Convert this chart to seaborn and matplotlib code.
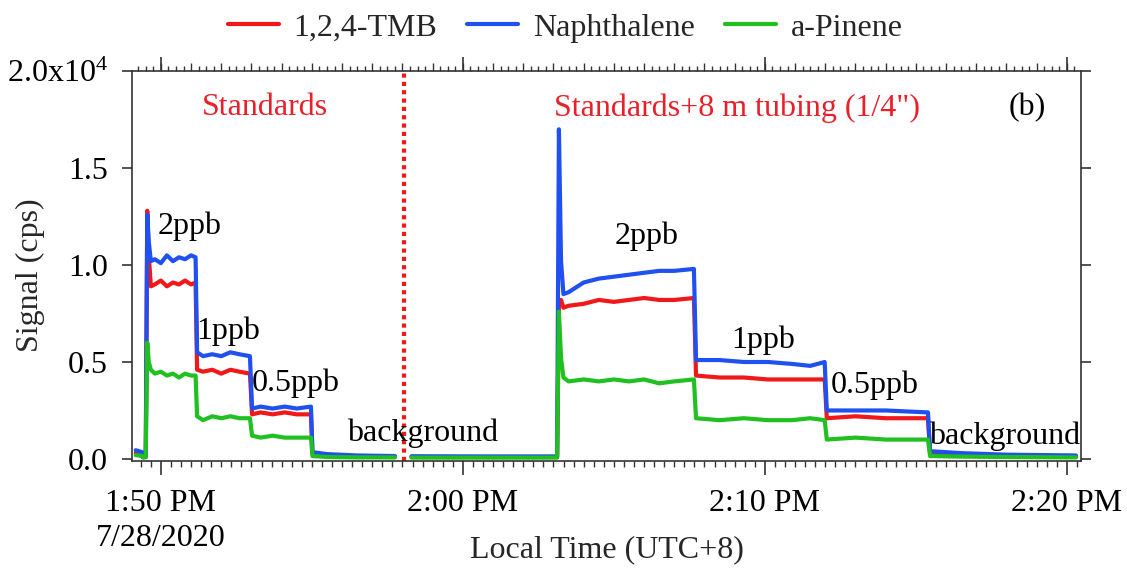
import numpy as np
import pandas as pd
import matplotlib
matplotlib.use("Agg")
import matplotlib.pyplot as plt
import seaborn as sns
from matplotlib.ticker import FixedLocator, FixedFormatter, MultipleLocator, NullFormatter
from matplotlib.lines import Line2D

# ---------------- data (minutes after 1:50 PM, signal in 1e4 cps) ----------------
compounds = ["1,2,4-TMB", "Naphthalene", "a-Pinene"]

time_min = [
    -0.83, -0.62, -0.58, -0.50,
    -0.45, -0.40, -0.33,
    -0.20, 0.00, 0.20, 0.40, 0.60, 0.80, 1.00, 1.15,
    1.20, 1.40, 1.70, 2.00, 2.30, 2.60, 2.95,
    3.02, 3.30, 3.70, 4.10, 4.50, 4.97,
    5.02, 5.50, 6.50, 7.75,
    8.30, 10.50, 13.12,
    13.18, 13.25, 13.33, 13.50, 14.00, 14.50, 15.00, 15.50, 16.00, 16.50, 17.00, 17.65,
    17.72, 18.50, 19.30, 20.10, 20.90, 21.50, 21.98,
    22.05, 23.00, 24.00, 25.40,
    25.47, 26.50, 28.00, 30.30,
]
segment = [1] * 32 + [2] * 30

tmb = [
    0.030, 0.020, 0.008, 0.010,
    1.28, 1.05, 0.89,
    0.90, 0.92, 0.89, 0.91, 0.90, 0.92, 0.90, 0.91,
    0.46, 0.45, 0.46, 0.44, 0.46, 0.45, 0.44,
    0.23, 0.24, 0.23, 0.24, 0.23, 0.23,
    0.025, 0.018, 0.012, 0.010,
    0.010, 0.010, 0.010,
    0.80, 0.82, 0.78, 0.79, 0.80, 0.82, 0.81, 0.82, 0.83, 0.82, 0.82, 0.83,
    0.43, 0.42, 0.42, 0.41, 0.41, 0.41, 0.41,
    0.21, 0.22, 0.21, 0.21,
    0.025, 0.020, 0.015, 0.012,
]
naphthalene = [
    0.045, 0.035, 0.010, 0.012,
    1.26, 1.12, 1.02,
    1.03, 1.01, 1.05, 1.02, 1.04, 1.03, 1.05, 1.04,
    0.55, 0.53, 0.54, 0.53, 0.55, 0.54, 0.53,
    0.26, 0.27, 0.26, 0.27, 0.26, 0.27,
    0.035, 0.025, 0.018, 0.015,
    0.014, 0.013, 0.013,
    1.70, 1.02, 0.85, 0.86, 0.91, 0.93, 0.94, 0.95, 0.96, 0.97, 0.97, 0.98,
    0.51, 0.51, 0.50, 0.50, 0.49, 0.48, 0.50,
    0.25, 0.25, 0.25, 0.24,
    0.040, 0.030, 0.022, 0.018,
]
pinene = [
    0.020, 0.015, 0.008, 0.010,
    0.60, 0.50, 0.46,
    0.44, 0.45, 0.43, 0.44, 0.42, 0.44, 0.43, 0.43,
    0.22, 0.20, 0.22, 0.21, 0.22, 0.21, 0.21,
    0.12, 0.11, 0.12, 0.11, 0.11, 0.11,
    0.015, 0.010, 0.008, 0.008,
    0.007, 0.007, 0.007,
    0.76, 0.52, 0.42, 0.40, 0.41, 0.40, 0.41, 0.40, 0.41, 0.39, 0.40, 0.41,
    0.21, 0.20, 0.21, 0.20, 0.20, 0.21, 0.20,
    0.10, 0.11, 0.10, 0.10,
    0.015, 0.012, 0.010, 0.008,
]

xtick_pos = [0, 10, 20, 30]
xtick_labels = ["1:50 PM\n7/28/2020", "2:00 PM", "2:10 PM", "2:20 PM"]
ytick_pos = [0.0, 0.5, 1.0, 1.5, 2.0]
ytick_labels = ["0.0", "0.5", "1.0", "1.5", r"2.0x10$^{4}$"]

switch_time = 8.05

annotations = [
    ("2ppb", 0.96, 1.20), ("1ppb", 2.22, 0.66), ("0.5ppb", 4.47, 0.39),
    ("background", 8.68, 0.13),
    ("2ppb", 16.1, 1.15), ("1ppb", 19.93, 0.61), ("0.5ppb", 23.64, 0.38),
    ("background", 27.95, 0.115),
]
red_labels = [("Standards", 3.44, 1.81), ("Standards+8 m tubing (1/4\")", 19.07, 1.81)]

# ---------------- styling ----------------
sns.set_theme(style="ticks")
plt.rcParams["font.family"] = ["Liberation Serif", "DejaVu Serif"]
plt.rcParams["mathtext.fontset"] = "custom"
plt.rcParams["mathtext.rm"] = "Liberation Serif"
plt.rcParams["mathtext.it"] = "Liberation Serif:italic"

colors = {"1,2,4-TMB": "#f01818", "Naphthalene": "#2050f0", "a-Pinene": "#20c020"}
FS = 23

frames = []
for name, vals in zip(compounds, [tmb, naphthalene, pinene]):
    frames.append(pd.DataFrame({"t": time_min, "v": vals, "seg": segment, "compound": name}))
df = pd.concat(frames, ignore_index=True)

fig = plt.figure(figsize=(11.27, 5.69), dpi=100)
ax = fig.add_axes([0.117, 0.190, 0.842, 0.685])

sns.lineplot(data=df, x="t", y="v", hue="compound", units="seg", estimator=None,
             palette=colors, hue_order=compounds, linewidth=3.0, legend=False,
             sort=False, ax=ax)

ax.axvline(switch_time, color="#f01818", linestyle=(0, (1.0, 1.0)), linewidth=3)

ax.set_xlim(-0.96, 30.46)
ax.set_ylim(-0.01, 2.0)

for s in ax.spines.values():
    s.set_color("#333333")
    s.set_linewidth(1.2)

ax.xaxis.set_major_locator(FixedLocator(xtick_pos))
ax.xaxis.set_major_formatter(FixedFormatter(xtick_labels))
ax.xaxis.set_minor_locator(MultipleLocator(1 / 3))
ax.yaxis.set_major_locator(FixedLocator(ytick_pos))
ax.yaxis.set_major_formatter(FixedFormatter(ytick_labels))
ax.tick_params(axis="x", which="major", direction="out", length=10, width=1.2,
               labelsize=FS, pad=10, colors="#333333", labelcolor="black")
ax.tick_params(axis="x", which="minor", direction="out", length=4.5, width=1.0, colors="#333333")
ax.tick_params(axis="y", which="major", direction="out", length=7, width=1.2, pad=10,
               labelsize=FS, right=True, colors="#333333", labelcolor="black")
for lab in ax.get_xticklabels():
    lab.set_linespacing(1.3)
ax.set_xlabel("")
ax.set_ylabel("")
fig.text(607 / 1127, 1 - 550 / 569, "Local Time (UTC+8)", fontsize=FS, ha="center", va="center")
fig.text(30 / 1127, 1 - 275 / 569, "Signal (cps)", fontsize=FS, ha="center", va="center",
         rotation=90)

# top axis ticks (outward)
top1 = ax.twiny()
top1.set_xlim(ax.get_xlim())
top1.xaxis.set_major_locator(MultipleLocator(1))
top1.xaxis.set_minor_locator(MultipleLocator(0.25))
top1.xaxis.set_major_formatter(NullFormatter())
top1.tick_params(axis="x", which="major", direction="out", length=6, width=1.0, colors="#333333")
top1.tick_params(axis="x", which="minor", direction="out", length=3.5, width=1.0, colors="#333333")
top2 = ax.twiny()
top2.set_xlim(ax.get_xlim())
top2.xaxis.set_major_locator(FixedLocator(xtick_pos))
top2.xaxis.set_major_formatter(NullFormatter())
top2.tick_params(axis="x", which="major", direction="out", length=10, width=1.2, colors="#333333")
for t in (top1, top2):
    for s in t.spines.values():
        s.set_visible(False)

for txt, x, y in annotations:
    ax.text(x, y, txt, fontsize=FS, ha="center", va="center", color="black")
for txt, x, y in red_labels:
    ax.text(x, y, txt, fontsize=FS, ha="center", va="center", color="#e8202a")
ax.text(28.7, 1.81, "(b)", fontsize=FS, ha="center", va="center", color="black")

handles = [Line2D([0], [0], color=colors[c], linewidth=3.0) for c in compounds]
fig.legend(handles, compounds, loc="center", bbox_to_anchor=(565 / 1127, 1 - 28 / 569), ncol=3,
           frameon=False, fontsize=FS, handlelength=1.6, columnspacing=0.95, handletextpad=0.45,
           borderpad=0.0)

fig.savefig("out.png", dpi=100)
